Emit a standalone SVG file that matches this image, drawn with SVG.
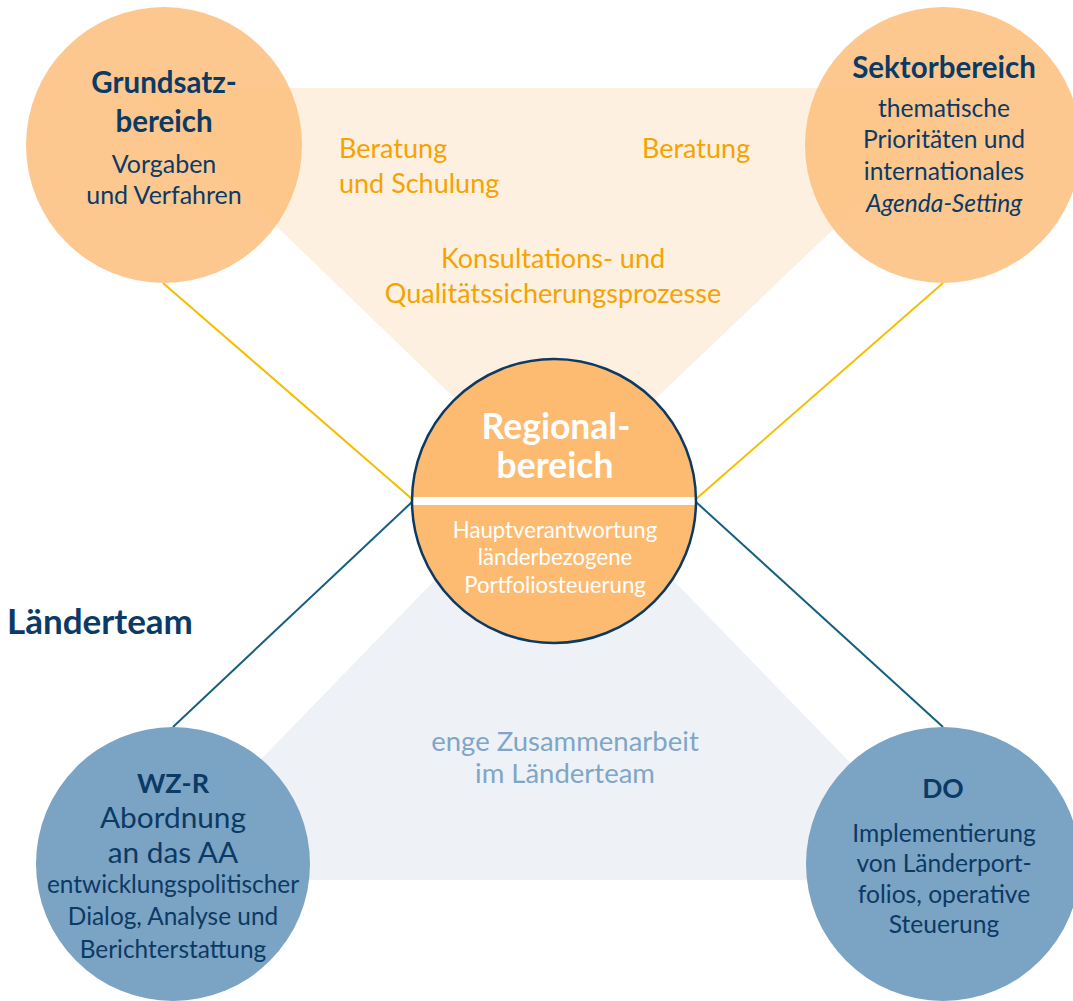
<svg xmlns="http://www.w3.org/2000/svg" width="1073" height="1001" viewBox="0 0 1073 1001">
<style>
text{font-family:Lato,"Liberation Sans",sans-serif;text-anchor:middle}
.t{fill:#0b3a65;font-weight:bold}
.s{fill:#0b3a65}
.o{fill:#f5a300;font-size:27px}
.b{fill:#7fa6c8;font-size:27.5px}
.w{fill:#ffffff}
.oc{fill:#fdbf7d;fill-opacity:0.86}
.bc{fill:#7ba3c3}
.y{stroke:#f6bd00;stroke-width:2;fill:none}
.n{stroke:#15607f;stroke-width:2;fill:none}
</style>
<defs>
<clipPath id="rc"><circle cx="554" cy="501" r="142"/></clipPath>
</defs>
<rect width="1073" height="1001" fill="#ffffff"/>
<g id="areas">
<polygon points="133,88 982,88 612,440 498,440" fill="#fdf0e1"/>
<polygon points="493,520 615,520 964,880 144,880" fill="#eef2f7"/>
</g>
<g id="connectors">
<line class="y" x1="163" y1="283" x2="412" y2="499"/>
<line class="y" x1="943" y1="283" x2="696" y2="499"/>
<line class="n" x1="412" y1="502" x2="173" y2="727"/>
<line class="n" x1="696" y1="502" x2="943" y2="727"/>
</g>
<g id="labels">
<text class="o" x="339" y="158" style="text-anchor:start">Beratung</text>
<text class="o" x="339" y="193" style="text-anchor:start">und Schulung</text>
<text class="o" x="642" y="158" style="text-anchor:start">Beratung</text>
<text class="o" x="553" y="268">Konsultations- und</text>
<text class="o" x="553" y="303">Qualitätssicherungsprozesse</text>
<text class="b" x="565" y="751">enge Zusammenarbeit</text>
<text class="b" x="565" y="783">im Länderteam</text>
<text class="t" x="7" y="634" style="text-anchor:start;font-size:35px">Länderteam</text>
</g>
<g id="grundsatz">
<circle class="oc" cx="164" cy="145" r="138"/>
<text class="t" x="164" y="93" font-size="29.5">Grundsatz-</text>
<text class="t" x="164" y="132" font-size="29.5">bereich</text>
<text class="s" x="164" y="173" font-size="25">Vorgaben</text>
<text class="s" x="164" y="204" font-size="25">und Verfahren</text>
</g>
<g id="sektor">
<circle class="oc" cx="943" cy="145" r="138"/>
<text class="t" x="944" y="78" font-size="29.5">Sektorbereich</text>
<text class="s" x="944" y="117" font-size="24.6">thematische</text>
<text class="s" x="944" y="148" font-size="24.6">Prioritäten und</text>
<text class="s" x="944" y="180" font-size="24.6">internationales</text>
<text class="s" x="944" y="212" font-size="24.6" font-style="italic">Agenda-Setting</text>
</g>
<g id="regional">
<circle cx="554" cy="501" r="142" fill="#fdbb71"/>
<rect x="400" y="497" width="310" height="8" fill="#ffffff" clip-path="url(#rc)"/>
<circle cx="554" cy="501" r="142" fill="none" stroke="#0e3a62" stroke-width="2.5"/>
<text class="w" x="556" y="439" font-size="35.5" font-weight="bold">Regional-</text>
<text class="w" x="555" y="478" font-size="35.5" font-weight="bold">bereich</text>
<text class="w" x="555" y="538" font-size="22.2">Hauptverantwortung</text>
<text class="w" x="555" y="565" font-size="22.2">länderbezogene</text>
<text class="w" x="555" y="593" font-size="22.2">Portfoliosteuerung</text>
</g>
<g id="wzr">
<circle class="bc" cx="173" cy="864" r="137"/>
<text class="t" x="173" y="793" font-size="27">WZ-R</text>
<text class="s" x="173" y="828" font-size="29.8">Abordnung</text>
<text class="s" x="173" y="863" font-size="29.8">an das AA</text>
<text class="s" x="173" y="893" font-size="24.4">entwicklungspolitischer</text>
<text class="s" x="173" y="925" font-size="24.4">Dialog, Analyse und</text>
<text class="s" x="173" y="958" font-size="24.4">Berichterstattung</text>
</g>
<g id="do">
<circle class="bc" cx="943" cy="864" r="137"/>
<text class="t" x="943" y="798" font-size="26.5">DO</text>
<text class="s" x="944" y="842" font-size="24.6">Implementierung</text>
<text class="s" x="944" y="872" font-size="24.6">von Länderport-</text>
<text class="s" x="944" y="903" font-size="24.6">folios, operative</text>
<text class="s" x="944" y="933" font-size="24.6">Steuerung</text>
</g>
</svg>
